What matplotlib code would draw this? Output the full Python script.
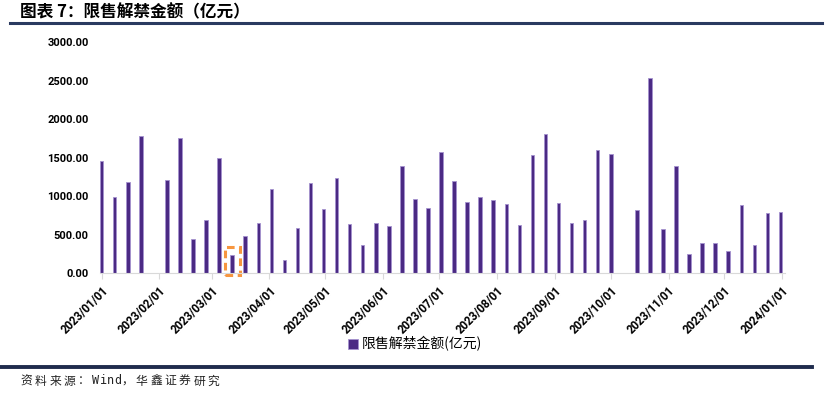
import numpy as np
import pandas as pd
import matplotlib
matplotlib.use("Agg")
import matplotlib.pyplot as plt
import matplotlib.dates as mdates
from matplotlib.patches import Rectangle

plt.rcParams['font.family'] = ['Roboto', 'Noto Sans CJK SC', 'DejaVu Sans']

# weekly unlock amounts (亿元), week starting 2023/01/01; nan = no unlock that week
weeks = pd.date_range("2023-01-01", periods=53, freq="7D")
values = [1453, 994, 1181, 1786, np.nan, 1207, 1756, 444, 687, 1496,
          232, 479, 648, 1090, 168, 587, 1170, 838, 1233, 635,
          362, 648, 613, 1397, 960, 847, 1574, 1202, 925, 990,
          947, 895, 622, 1535, 1808, 912, 652, 695, 1600, 1544,
          np.nan, 821, 2532, 570, 1393, 253, 388, 392, 284, 882,
          366, 782, 795]
month_ticks = pd.date_range("2023-01-01", "2024-01-01", freq="MS")
y_ticks = [0, 500, 1000, 1500, 2000, 2500, 3000]
highlight = 10  # week circled in orange
legend_label = "限售解禁金额(亿元)"
title = "图表 7：限售解禁金额（亿元）"
source = "资料来源：Wind，华鑫证券研究"

fig = plt.figure(figsize=(8.29, 4.03), dpi=100)
ax = fig.add_axes([0.1206, 0.3218, 0.826, 0.5732])

x = mdates.date2num(weeks.to_pydatetime())
v = np.array(values, dtype=float)
ok = ~np.isnan(v)
ax.bar(x[ok], v[ok], width=1.9, color="#4B2A84", edgecolor="#A592CF",
       linewidth=0.6, label=legend_label)

x0 = mdates.date2num(pd.Timestamp("2023-01-01").to_pydatetime())
ax.set_xlim(x0 - 0.9, x0 + 366.3)
ax.set_ylim(0, 3000)
ax.set_yticks(y_ticks)
ax.set_yticklabels([f"{t:.2f}" for t in y_ticks], fontsize=8, fontweight="bold")
ax.set_xticks(mdates.date2num(month_ticks.to_pydatetime()))
ax.set_xticklabels([d.strftime("%Y/%m/%d") for d in month_ticks], fontsize=8.3,
                   fontweight="bold", rotation=45, ha="right", va="top",
                   rotation_mode="anchor")
ax.tick_params(axis="y", length=0, pad=8)
ax.tick_params(axis="x", length=4, color="#D9D9D9", pad=4)
for s in ["left", "right", "top"]:
    ax.spines[s].set_visible(False)
ax.spines["bottom"].set_color("#D9D9D9")

# orange dashed marker box
xc = x[highlight]
ax.add_patch(Rectangle((xc - 4, -25), 8, 370, fill=False, edgecolor="#F7963F",
                       linestyle=(0, (2.5, 1.5)), linewidth=2.2, clip_on=False))

leg = fig.legend(loc="center", bbox_to_anchor=(415 / 829, 1 - 344 / 403), frameon=False,
                 prop={"family": ["Noto Sans CJK SC"], "size": 10},
                 handlelength=0.7, handleheight=0.7, handletextpad=0.3)

fig.text(20 / 829, 1 - 12 / 403, title, fontsize=12,
         fontweight="bold", family=["Noto Sans CJK SC"], va="center", ha="left")
fig.add_artist(plt.Line2D([10 / 829, 822 / 829], [1 - 22.7 / 403] * 2,
                          color="#2A3A60", linewidth=2.2))
fig.add_artist(plt.Line2D([0, 812 / 829], [1 - 367 / 403] * 2,
                          color="#1F2B4D", linewidth=2.8))

# source note: wide fixed-pitch spacing like the original
px = 20.5
for ch in source:
    fig.text(px / 829, 1 - 381 / 403, ch, fontsize=8.5,
             family=["DejaVu Sans Mono", "Noto Sans CJK SC"], va="center",
             ha="left", color="#222222")
    px += 7.2 if ord(ch) < 128 else 14.4

fig.savefig("out.png", dpi=100)
